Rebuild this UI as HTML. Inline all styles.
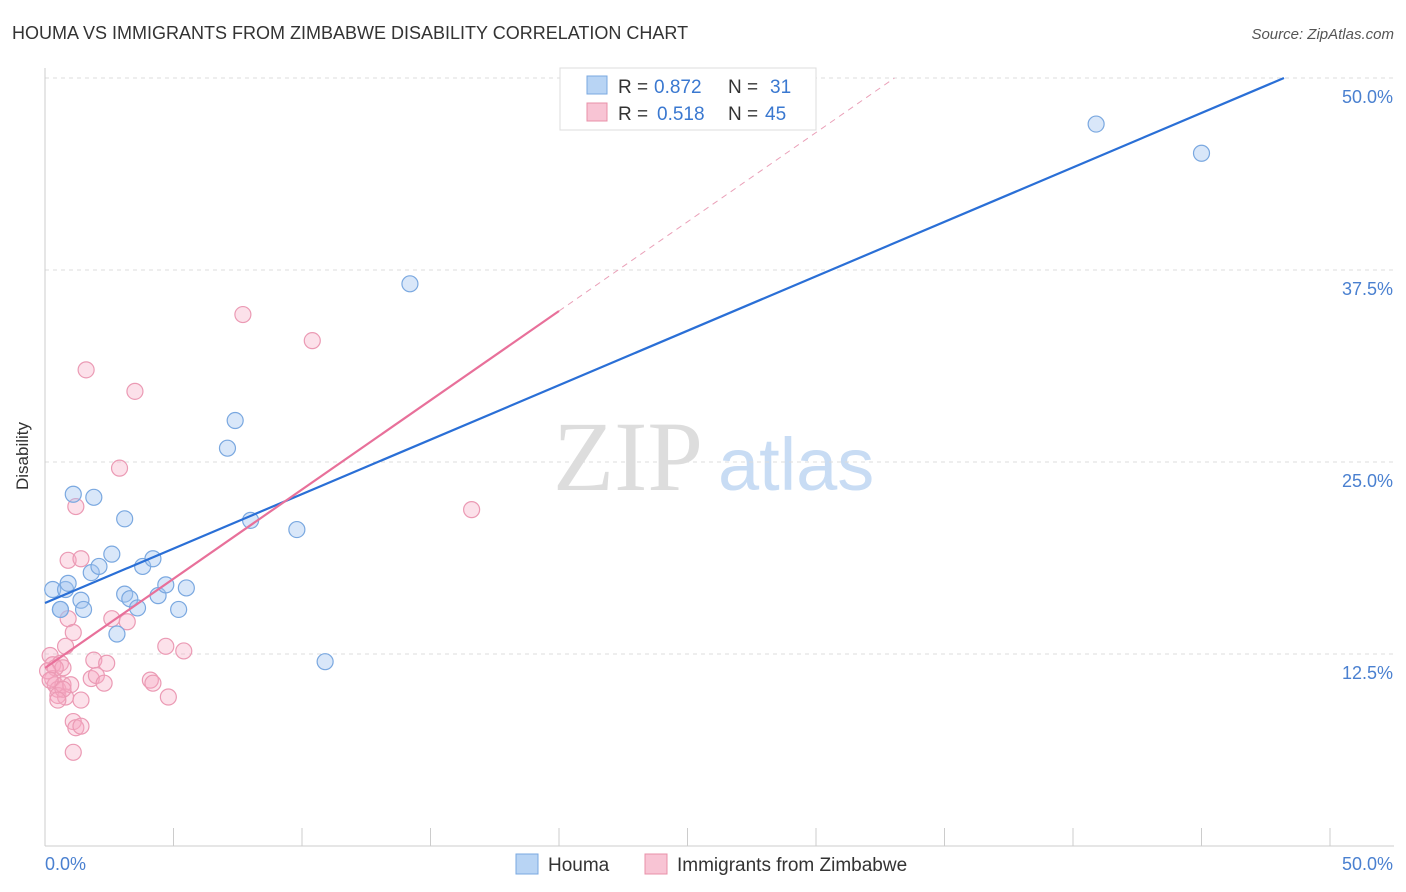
<!DOCTYPE html>
<html><head><meta charset="utf-8"><style>
body{margin:0;background:#fff;font-family:"Liberation Sans",sans-serif;}
#c{position:absolute;left:0;top:0;width:1406px;height:892px;}
</style></head><body>
<svg id="c" width="1406" height="892">
<text x="12" y="39" font-size="18" fill="#333">HOUMA VS IMMIGRANTS FROM ZIMBABWE DISABILITY CORRELATION CHART</text>
<text x="1394" y="39" font-size="15" fill="#555" text-anchor="end" font-style="italic">Source: ZipAtlas.com</text>
<text x="28" y="456" font-size="17" fill="#333" text-anchor="middle" transform="rotate(-90 28 456)">Disability</text>
<text x="553" y="490" font-size="100" fill="#ddd" font-family="Liberation Serif">ZIP</text>
<text x="718" y="490" font-size="74" fill="#c8dcf4">atlas</text>
<g id="grid"></g><g id="marks"></g>
<rect x="560" y="68" width="256" height="62" fill="#fff" stroke="#ddd"/>
<rect x="587" y="76" width="20" height="18" fill="#b8d4f4" stroke="#7aa8e0"/>
<rect x="587" y="103" width="20" height="18" fill="#f8c4d4" stroke="#e890a8"/>
<g font-size="19">
<text x="618" y="93" fill="#333">R =</text><text x="654" y="93" fill="#3a78d0">0.872</text>
<text x="728" y="93" fill="#333">N =</text><text x="770" y="93" fill="#3a78d0">31</text>
<text x="618" y="120" fill="#333">R =</text><text x="657" y="120" fill="#3a78d0">0.518</text>
<text x="728" y="120" fill="#333">N =</text><text x="765" y="120" fill="#3a78d0">45</text>
</g>
<rect x="516" y="854" width="22" height="20" fill="#b8d4f4" stroke="#7aa8e0"/>
<text x="548" y="871" font-size="19" fill="#333">Houma</text>
<rect x="645" y="854" width="22" height="20" fill="#f8c4d4" stroke="#e890a8"/>
<text x="677" y="871" font-size="19" fill="#333">Immigrants from Zimbabwe</text>
</svg>
<script>
const xTicks=[0,5,10,15,20,25,30,35,40,45,50];
const yTicks=[12.5,25,37.5,50];
const yTickLabels=["12.5%","25.0%","37.5%","50.0%"];
const houmaX=[0.3,0.6,0.8,0.9,1.1,1.4,1.5,1.8,1.9,2.1,2.6,2.8,3.1,3.1,3.3,3.6,3.8,4.2,4.4,4.7,5.2,5.5,7.1,7.4,8.0,9.8,10.9,14.2,40.9,45.0,0.6];
const houmaY=[16.7,15.4,16.7,17.1,22.9,16.0,15.4,17.8,22.7,18.2,19.0,13.8,16.4,21.3,16.1,15.5,18.2,18.7,16.3,17.0,15.4,16.8,25.9,27.7,21.2,20.6,12.0,36.6,47.0,45.1,15.4];
const zimX=[0.2,0.3,0.3,0.4,0.5,0.5,0.6,0.7,0.7,0.8,0.8,0.9,0.9,1.0,1.1,1.1,1.1,1.2,1.2,1.4,1.4,1.4,1.6,1.8,1.9,2.0,2.3,2.4,2.6,2.9,3.2,3.5,4.1,4.2,4.7,4.8,5.4,7.7,10.4,16.6,0.4,0.1,0.2,0.7,0.5];
const zimY=[12.4,11.8,10.9,10.5,10.2,9.8,11.9,10.5,11.6,13.0,9.7,14.8,18.6,10.5,13.9,6.1,8.1,22.1,7.7,9.5,7.8,18.7,31.0,10.9,12.1,11.1,10.6,11.9,14.8,24.6,14.6,29.6,10.8,10.6,13.0,9.7,12.7,34.6,32.9,21.9,11.6,11.4,10.8,10.2,9.5];
const trendHouma=[15.82,0.709];
const trendZim=[11.59,1.162];
const X=v=>45+v*25.7, Y=v=>846-v*15.36;
const NS="http://www.w3.org/2000/svg";
function mk(t,a,p){const e=document.createElementNS(NS,t);for(const k in a)e.setAttribute(k,a[k]);p.appendChild(e);return e;}
const g=document.getElementById('grid'),m=document.getElementById('marks');
yTicks.forEach((v,i)=>{const l=mk('line',{x1:45,x2:1394,y1:Y(v),y2:Y(v),stroke:'#ddd','stroke-dasharray':'4,4'},g);


const t=mk('text',{x:1393,y:Y(v)+25,'font-size':18,fill:'#4a80d0','text-anchor':'end'},g);t.textContent=yTickLabels[i];

});
const ax=mk('line',{x1:45,x2:45,y1:68,y2:846,stroke:'#ccc'},g);


const bx=mk('line',{x1:45,x2:1394,y1:846,y2:846,stroke:'#ccc'},g);


xTicks.forEach(v=>{const l=mk('line',{x1:X(v),x2:X(v),y1:828,y2:846,stroke:'#ccc'},g);

});
[[0,'0.0%','start',45],[50,'50.0%','end',1393]].forEach(a=>{const t=mk('text',{x:a[3],y:870,'font-size':18,fill:'#4a80d0','text-anchor':a[2]},g);t.textContent=a[1];

});
zimX.forEach((v,i)=>{const c=mk('circle',{cx:X(v),cy:Y(zimY[i]),r:8,fill:'rgba(245,170,195,0.35)',stroke:'#eb9ab4','stroke-width':1.2},m);

});
houmaX.forEach((v,i)=>{const c=mk('circle',{cx:X(v),cy:Y(houmaY[i]),r:8,fill:'rgba(160,195,240,0.4)',stroke:'#7aa8e0','stroke-width':1.2},m);

});
const hx1=(50-trendHouma[0])/trendHouma[1];
const hl=mk('line',{x1:X(0),y1:Y(trendHouma[0]),x2:X(hx1),y2:Y(50),stroke:'#2a6fd6','stroke-width':2.2},m);


const zl=mk('line',{x1:X(0),y1:Y(trendZim[0]),x2:X(20),y2:Y(trendZim[0]+20*trendZim[1]),stroke:'#e8709a','stroke-width':2.2},m);


const zx1=(50-trendZim[0])/trendZim[1];
const zd=mk('line',{x1:X(20),y1:Y(trendZim[0]+20*trendZim[1]),x2:X(zx1),y2:Y(50),stroke:'#eaa0b8','stroke-width':1,'stroke-dasharray':'6,5'},m);


</script>
</body></html>
